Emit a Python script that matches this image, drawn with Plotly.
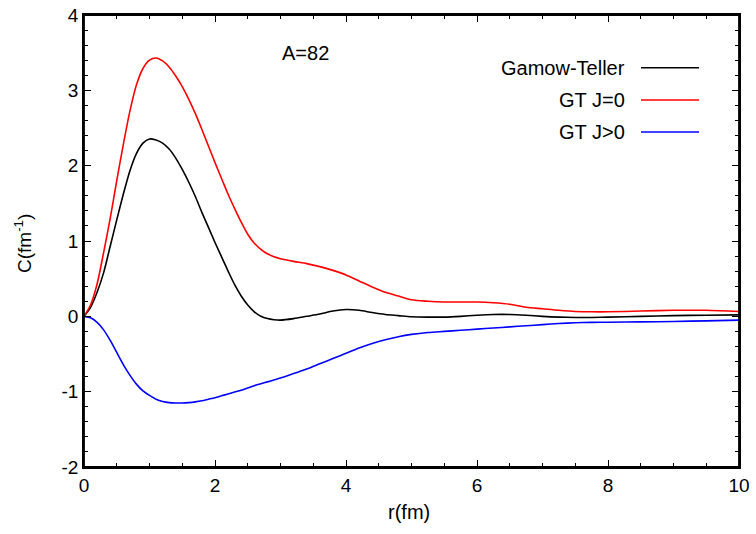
import plotly.graph_objects as go

# radial grid (fm)
r = [0, 0.1, 0.2, 0.3, 0.4, 0.5, 0.6, 0.7, 0.8, 0.9, 1.0, 1.1, 1.2, 1.3, 1.4,
     1.5, 1.6, 1.7, 1.8, 1.9, 2.0, 2.1, 2.2, 2.3, 2.4, 2.5, 2.6, 2.7, 2.8,
     2.9, 3.0, 3.2, 3.4, 3.6, 3.8, 4.0, 4.2, 4.4, 4.6, 4.8, 5.0, 5.25, 5.5,
     5.75, 6.0, 6.25, 6.5, 6.75, 7.0, 7.25, 7.5, 7.75, 8.0, 8.5, 9.0, 9.5,
     10.0]

# Gamow-Teller radial distribution, total
c_gt = [0, 0.12, 0.32, 0.58, 0.93, 1.28, 1.62, 1.93, 2.16, 2.30, 2.355, 2.34,
        2.30, 2.22, 2.10, 1.95, 1.78, 1.59, 1.38, 1.18, 0.98, 0.79, 0.60,
        0.42, 0.27, 0.15, 0.06, 0.0, -0.03, -0.045, -0.05,
        -0.03, 0.0, 0.03, 0.07, 0.09, 0.08, 0.05, 0.025, 0.01, -0.005,
        -0.01, -0.01, 0.0, 0.015, 0.025, 0.025, 0.015, 0.0, -0.01, -0.015,
        -0.015, -0.01, 0.0, 0.01, 0.015, 0.02]

# J=0 contribution
c_j0 = [0, 0.15, 0.43, 0.85, 1.30, 1.80, 2.28, 2.72, 3.07, 3.29, 3.40, 3.43,
        3.39, 3.31, 3.19, 3.05, 2.88, 2.69, 2.48, 2.26, 2.04, 1.83, 1.62,
        1.43, 1.25, 1.09, 0.97, 0.89, 0.83, 0.79, 0.765,
        0.73, 0.70, 0.66, 0.61, 0.55, 0.47, 0.39, 0.32, 0.27, 0.22,
        0.20, 0.19, 0.19, 0.19, 0.18, 0.16, 0.12, 0.10, 0.08, 0.065, 0.06,
        0.06, 0.07, 0.08, 0.08, 0.065]

# J>0 contribution
c_jgt0 = [0, -0.02, -0.08, -0.18, -0.32, -0.48, -0.64, -0.78, -0.90, -0.99,
          -1.05, -1.10, -1.13, -1.145, -1.15, -1.15, -1.145, -1.135, -1.12,
          -1.10, -1.08, -1.055, -1.03, -1.005, -0.98, -0.95, -0.92, -0.895,
          -0.87, -0.845, -0.82,
          -0.76, -0.70, -0.63, -0.56, -0.49, -0.42, -0.36, -0.31, -0.27,
          -0.24, -0.215, -0.20, -0.185, -0.17, -0.155, -0.14, -0.125, -0.11,
          -0.095, -0.085, -0.08, -0.078, -0.074, -0.068, -0.06, -0.05]

series_names = ["Gamow-Teller", "GT J=0", "GT J>0"]
series_values = [c_gt, c_j0, c_jgt0]
series_colors = ["#000000", "#ff0000", "#0000ff"]

x_ticks = [0, 2, 4, 6, 8, 10]
y_ticks = [-2, -1, 0, 1, 2, 3, 4]

FONT = "Liberation Sans, Arial, Helvetica, sans-serif"

fig = go.Figure()
for name, vals, col in zip(series_names, series_values, series_colors):
    fig.add_trace(go.Scatter(x=r, y=vals, mode="lines", name=name,
                             line=dict(color=col, width=1.6, shape="spline",
                                       smoothing=0.8),
                             showlegend=False))

W, H = 756, 534
ml, mr, mt, mb = 84, 17, 15, 67
pw, ph = W - ml - mr, H - mt - mb


def px_x(px):
    return (px - ml) / pw


def px_y(py):
    return 1 - (py - mt) / ph


# legend drawn as text with a line sample to its right
legend_rows = [67.7, 100, 132]
for name, col, yy in zip(series_names, series_colors, legend_rows):
    fig.add_annotation(x=px_x(627), y=px_y(yy), xref="paper", yref="paper",
                       text=name, showarrow=False, xanchor="right",
                       yanchor="middle",
                       font=dict(family=FONT, size=20, color="black"))
    fig.add_shape(type="line", xref="paper", yref="paper",
                  x0=px_x(641), x1=px_x(699), y0=px_y(yy), y1=px_y(yy),
                  line=dict(color=col, width=1.6))

fig.add_annotation(x=px_x(280), y=px_y(53), xref="paper", yref="paper",
                   text="A=82", showarrow=False, xanchor="left",
                   yanchor="middle",
                   font=dict(family=FONT, size=20, color="black"))

fig.add_annotation(x=px_x(409), y=px_y(512), xref="paper", yref="paper",
                   text="r(fm)", showarrow=False, xanchor="center",
                   yanchor="middle",
                   font=dict(family=FONT, size=20, color="black"))

fig.add_annotation(x=px_x(23), y=px_y(244), xref="paper", yref="paper",
                   text="C(fm<sup>-1</sup>)", showarrow=False, textangle=-90,
                   xanchor="center", yanchor="middle",
                   font=dict(family=FONT, size=19, color="black"))

# plot frame
fig.add_shape(type="rect", xref="paper", yref="paper", x0=0, x1=1, y0=0, y1=1,
              line=dict(color="black", width=1.8), layer="above")

axis_common = dict(showgrid=False, zeroline=False, showline=True,
                   linecolor="black", linewidth=1.8, mirror="allticks",
                   ticks="inside", ticklen=7, tickwidth=1.4,
                   tickcolor="black", automargin=False, tickmode="array",
                   tickfont=dict(family=FONT, size=19, color="black"))

# plain hyphen-minus in labels, as in gnuplot-style output
fig.update_xaxes(range=[0, 10], tickvals=x_ticks,
                 ticktext=[str(v) for v in x_ticks],
                 minor=dict(tickmode="linear", tick0=0, dtick=0.5,
                            ticks="inside", ticklen=4,
                            tickcolor="black", tickwidth=1.1),
                 **axis_common)
fig.update_yaxes(range=[-2, 4], tickvals=y_ticks,
                 ticktext=[str(v) for v in y_ticks],
                 minor=dict(tickmode="linear", tick0=0, dtick=0.2,
                            ticks="inside", ticklen=4,
                            tickcolor="black", tickwidth=1.1),
                 **axis_common)

fig.update_layout(template="none", width=W, height=H,
                  margin=dict(l=ml, r=mr, t=mt, b=mb, pad=0, autoexpand=False),
                  paper_bgcolor="white", plot_bgcolor="white",
                  showlegend=False)

fig.write_html("out.html")
